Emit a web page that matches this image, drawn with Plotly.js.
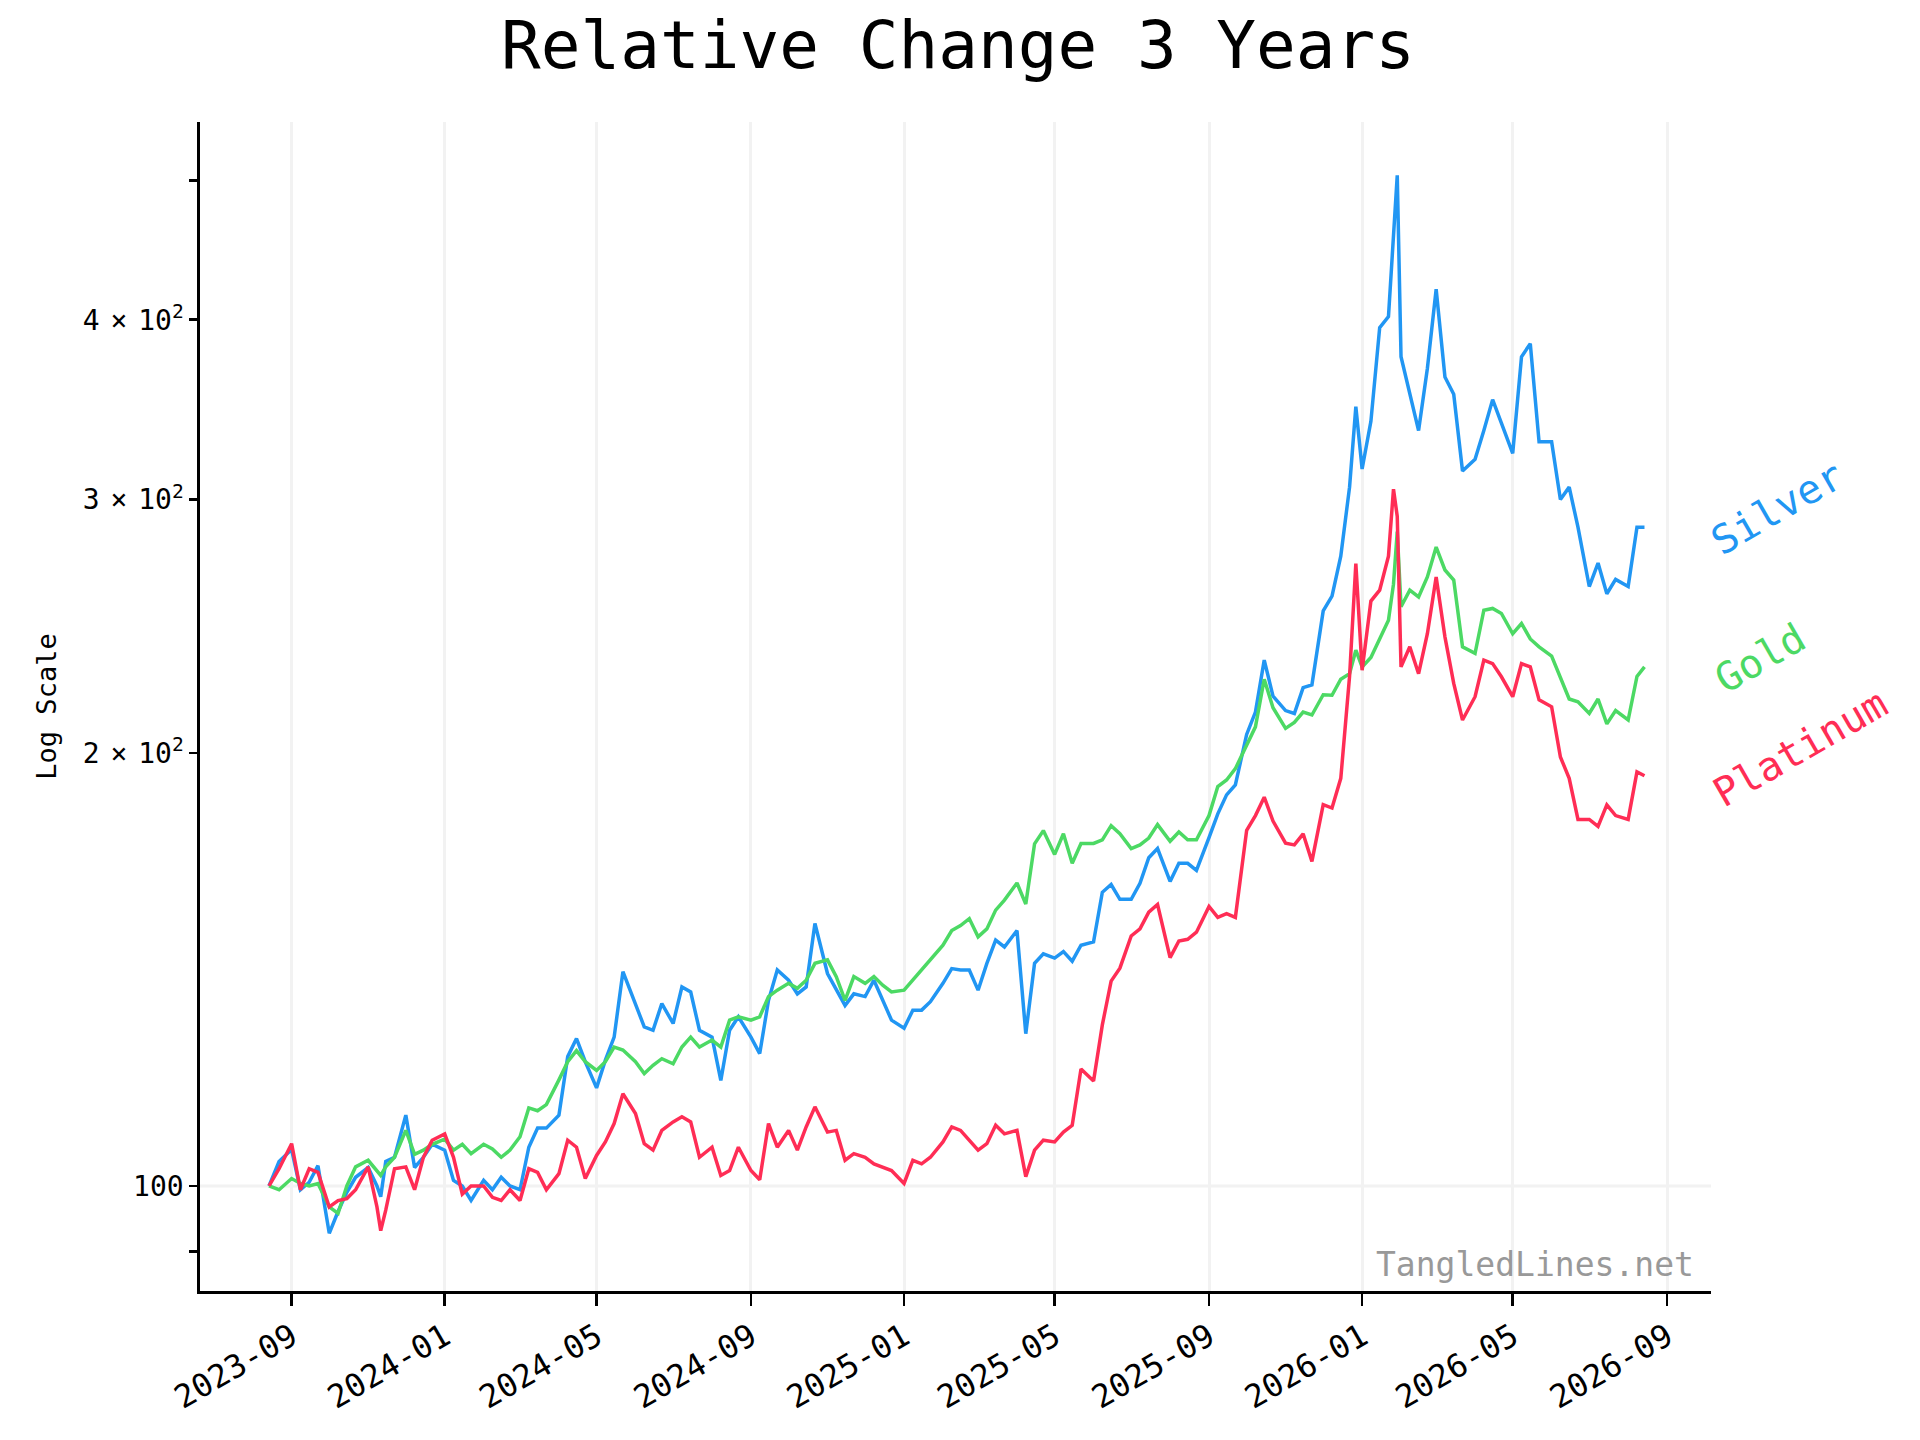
<!DOCTYPE html>
<html>
<head>
<meta charset="utf-8">
<script src="https://cdn.plot.ly/plotly-3.0.1.min.js"></script>
<style>
  body { margin: 0; background: #fff; }
  #chart { width: 1920px; height: 1440px; }
</style>
</head>
<body>
<div id="chart"></div>
<script>
// sample dates (roughly weekly) shared by all three series
var dates = [
  '2023-08-14', '2023-08-22',
  '2023-09-01', '2023-09-08', '2023-09-15', '2023-09-22',
  '2023-10-01', '2023-10-08', '2023-10-15', '2023-10-22',
  '2023-11-01', '2023-11-08', '2023-11-11', '2023-11-15', '2023-11-22',
  '2023-12-01', '2023-12-08', '2023-12-15', '2023-12-22',
  '2024-01-01', '2024-01-08', '2024-01-15', '2024-01-22',
  '2024-02-01', '2024-02-08', '2024-02-15', '2024-02-22',
  '2024-03-01', '2024-03-08', '2024-03-15', '2024-03-22',
  '2024-04-01', '2024-04-08', '2024-04-15', '2024-04-22',
  '2024-05-01', '2024-05-08', '2024-05-15', '2024-05-22',
  '2024-06-01', '2024-06-08', '2024-06-15', '2024-06-22',
  '2024-07-01', '2024-07-08', '2024-07-15', '2024-07-22',
  '2024-08-01', '2024-08-08', '2024-08-15', '2024-08-22',
  '2024-09-01', '2024-09-08', '2024-09-15', '2024-09-22',
  '2024-10-01', '2024-10-08', '2024-10-15', '2024-10-22',
  '2024-11-01', '2024-11-08', '2024-11-15', '2024-11-22',
  '2024-12-01', '2024-12-08', '2024-12-15', '2024-12-22',
  '2025-01-01', '2025-01-08', '2025-01-15', '2025-01-22',
  '2025-02-01', '2025-02-08', '2025-02-15', '2025-02-22',
  '2025-03-01', '2025-03-08', '2025-03-15', '2025-03-22',
  '2025-04-01', '2025-04-08', '2025-04-15', '2025-04-22',
  '2025-05-01', '2025-05-08', '2025-05-15', '2025-05-22',
  '2025-06-01', '2025-06-08', '2025-06-15', '2025-06-22',
  '2025-07-01', '2025-07-08', '2025-07-15', '2025-07-22',
  '2025-08-01', '2025-08-08', '2025-08-15', '2025-08-22',
  '2025-09-01', '2025-09-08', '2025-09-15', '2025-09-22',
  '2025-10-01', '2025-10-08', '2025-10-15', '2025-10-22',
  '2025-11-01', '2025-11-08', '2025-11-15', '2025-11-22',
  '2025-12-01', '2025-12-08', '2025-12-15', '2025-12-22', '2025-12-27',
  '2026-01-01', '2026-01-08', '2026-01-15', '2026-01-22', '2026-01-26', '2026-01-29',
  '2026-02-01', '2026-02-08', '2026-02-15', '2026-02-22',
  '2026-03-01', '2026-03-08', '2026-03-15', '2026-03-22',
  '2026-04-01', '2026-04-08', '2026-04-15', '2026-04-22',
  '2026-05-01', '2026-05-08', '2026-05-15', '2026-05-22',
  '2026-06-01', '2026-06-08', '2026-06-15', '2026-06-22',
  '2026-07-01', '2026-07-08', '2026-07-15', '2026-07-22',
  '2026-08-01', '2026-08-08', '2026-08-14'
];

// relative value, start = 100
var silver = [
  100, 104,
  106, 99.4, 100.6, 103.3,
  92.7, 96, 99, 101.4,
  103, 100, 98.3, 104, 104.7,
  112, 103, 104.7, 106.9,
  105.9, 100.9, 100, 97.7,
  100.9, 99.4, 101.4, 100,
  99.4, 106.4, 109.7, 109.7,
  112, 123, 126.6, 122,
  117, 122.3, 126.9, 140.9,
  133.9, 129, 128.3, 133.9,
  129.7, 137.5, 136.4, 128.3,
  126.9, 118.4, 128.3, 131.1,
  126.9, 123.6, 134.6, 141.3,
  139, 136, 137.5, 152.2,
  140.5, 136.8, 133.5, 136,
  135.4, 139, 134.6, 130.4,
  128.7, 132.5, 132.5, 134.3,
  138.3, 141.6, 141.3, 141.3,
  136.8, 142.8, 148.2, 146.6,
  150.5, 127.6, 142.8, 145,
  144, 145.5, 143.3, 147,
  147.8, 160, 162, 158.2,
  158.2, 162.3, 169.1, 171.6,
  162.8, 167.6, 167.6, 165.7,
  174.6, 181.4, 187, 190,
  206, 213.5, 232, 219,
  214, 213, 222, 223,
  251, 257, 274, 306, 348,
  315, 340, 395, 402, 457, 504,
  377, 355, 335, 370,
  420, 365, 355, 314,
  320, 335, 352, 339,
  323, 377, 385, 329,
  329, 300, 306, 287,
  261, 271, 258, 264,
  261, 287, 287
];

var gold = [
  100, 99.4,
  101.2, 100.4, 100, 100.4,
  96.7, 95.7, 100, 103.1,
  104.2, 102.5, 101.7, 103.1, 104.7,
  109.3, 105.2, 105.9, 106.9,
  107.8, 105.9, 106.9, 105.3,
  106.9, 106.1, 104.7, 105.9,
  108.2, 113.3, 112.8, 113.9,
  118.5, 122, 124.2, 122,
  120.3, 122, 124.9, 124.3,
  122, 119.7, 121.3, 122.6,
  121.6, 124.9, 126.9, 124.9,
  126.3, 124.9, 130.4, 131.1,
  130.4, 131.1, 135.4, 136.8,
  138.3, 137.2, 139, 142.8,
  143.6, 139.8, 134.6, 139.8,
  138.3, 139.8, 137.9, 136.4,
  136.8, 139, 141.3, 143.6,
  147, 150.5, 151.7, 153.4,
  149, 150.9, 155.5, 158,
  162.4, 157, 172.9, 176.6,
  170, 175.7, 167.6, 173,
  173, 174, 178, 175.7,
  171.6, 172.6, 174.5, 178.3,
  173.6, 176.2, 174, 174,
  180.9, 189.5, 191.5, 195,
  202.5, 208.5, 225, 215,
  208, 210, 213.5, 212.5,
  219.5, 219.3, 225, 227, 235.7,
  229.5, 233, 240, 247.3, 262, 285,
  252.7, 259.5, 256.7, 265,
  278, 268, 263.7, 237,
  234.5, 251.3, 252, 250,
  242, 246, 240, 237,
  233.5, 226, 218, 217,
  213, 218, 209.5, 214,
  210.8, 226, 229.5
];

var platinum = [
  100, 102.8,
  107, 99.4, 102.8, 102.2,
  96.7, 97.7, 98, 99.4,
  103.1, 96.7, 93.1, 96.2, 102.8,
  103.1, 99.4, 104.7, 107.6,
  108.7, 104.7, 98.7, 100,
  100, 98.2, 97.7, 99.4,
  97.7, 102.8, 102.2, 99.4,
  102, 107.6, 106.4, 101.2,
  105, 107.3, 110.5, 115.9,
  112.3, 107, 105.9, 109.3,
  110.8, 111.7, 110.8, 104.7,
  106.4, 101.7, 102.5, 106.4,
  102.5, 101, 110.5, 106.4,
  109.3, 105.9, 109.9, 113.5,
  109, 109.3, 104.2, 105.3,
  104.7, 103.6, 103.1, 102.5,
  100.4, 104.2, 103.6, 104.7,
  107.3, 109.9, 109.3, 107.6,
  105.9, 107, 110.2, 108.7,
  109.3, 101.5, 105.9, 107.6,
  107.3, 109, 110.2, 120.6,
  118.3, 129.4, 138.8, 141.7,
  149.2, 150.9, 155, 156.9,
  144.1, 148, 148.4, 150.1,
  156.4, 153.7, 154.6, 153.7,
  176.7, 180.9, 186.3, 179.3,
  173.1, 172.6, 175.7, 168.1,
  184.1, 183.1, 192, 226, 270.8,
  228.3, 255, 259.5, 274, 305, 292,
  229.5, 237, 227, 242,
  265, 240.8, 223.5, 210.8,
  218.8, 232, 230.7, 225.9,
  218.8, 230.7, 229.5, 217.7,
  215.3, 198.7, 192, 179.8,
  179.8, 177.8, 184, 180.9,
  179.8, 194, 192.8
];

var names = ['Silver', 'Gold', 'Platinum'];
var colors = ['#2196f3', '#4cd964', '#ff2d55'];
var series = [silver, gold, platinum];

// y tick marks and their labels
var gap = '<span style="font-size:18px"> </span>';
var yTickVals = [90, 100, 200, 300, 400, 500];
var yTickText = ['', '100',
  '2' + gap + '\u00d7' + gap + '10<sup>2</sup>',
  '3' + gap + '\u00d7' + gap + '10<sup>2</sup>',
  '4' + gap + '\u00d7' + gap + '10<sup>2</sup>', ''];

var mono = 'DejaVu Sans Mono';

var data = [];
for (var i = 0; i < series.length; i++) {
  data.push({
    x: dates,
    y: series[i],
    name: names[i],
    type: 'scatter',
    mode: 'lines',
    line: { color: colors[i], width: 3.5 },
    hoverinfo: 'skip'
  });
}

// end labels, placed to the right of the plot
var labelPos = [[1.0437, 0.6698], [1.0326, 0.5414], [1.059, 0.4644]];
var annotations = [];
for (var j = 0; j < names.length; j++) {
  annotations.push({
    text: names[j],
    xref: 'paper', yref: 'paper',
    x: labelPos[j][0], y: labelPos[j][1],
    xanchor: 'center', yanchor: 'middle',
    textangle: -30,
    showarrow: false,
    font: { family: mono, size: 40, color: colors[j] }
  });
}
annotations.push({
  text: 'TangledLines.net',
  xref: 'paper', yref: 'paper',
  x: 0.99, y: 0.023,
  xanchor: 'right', yanchor: 'middle',
  showarrow: false,
  font: { family: mono, size: 33, color: '#999999' }
});

var layout = {
  width: 1920,
  height: 1440,
  margin: { l: 200, r: 209, t: 122, b: 149 },
  paper_bgcolor: '#ffffff',
  plot_bgcolor: '#ffffff',
  showlegend: false,
  font: { family: mono, color: '#000000', size: 27 },
  title: {
    text: 'Relative Change 3 Years',
    font: { family: mono, size: 66, color: '#000000' },
    xref: 'container', x: 0.499,
    yref: 'container', y: 0.969, yanchor: 'middle'
  },
  xaxis: {
    type: 'date',
    range: ['2023-06-20', '2026-10-06'],
    tick0: '2023-09-01',
    dtick: 'M4',
    tickformat: '%Y-%m',
    tickangle: -30,
    ticks: 'outside',
    ticklen: 12,
    tickwidth: 2.7,
    tickcolor: '#000000',
    tickfont: { family: mono, size: 32 },
    showline: true,
    linecolor: '#000000',
    linewidth: 2.7,
    showgrid: true,
    gridcolor: '#f2f2f2',
    gridwidth: 3,
    zeroline: false
  },
  yaxis: {
    type: 'log',
    range: [1.927, 2.7395],
    tickmode: 'array',
    tickvals: yTickVals,
    ticktext: yTickText,
    ticks: 'outside',
    ticklen: 8,
    tickwidth: 2.7,
    tickcolor: '#000000',
    tickfont: { family: mono, size: 28 },
    showline: true,
    linecolor: '#000000',
    linewidth: 2.7,
    showgrid: false,
    zeroline: false,
    title: { text: 'Log Scale', font: { family: mono, size: 27 }, standoff: 19 }
  },
  shapes: [{
    type: 'line',
    xref: 'paper', x0: 0, x1: 1,
    yref: 'y', y0: 100, y1: 100,
    layer: 'below',
    line: { color: '#f2f2f2', width: 3 }
  }],
  annotations: annotations
};

Plotly.newPlot('chart', data, layout, { displayModeBar: false, staticPlot: true });
</script>
</body>
</html>
